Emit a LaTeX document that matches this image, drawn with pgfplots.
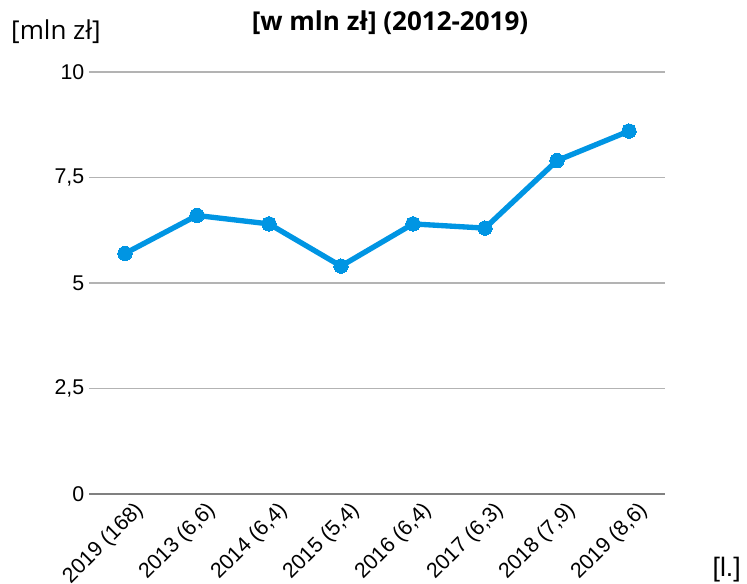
\documentclass[border=0pt]{standalone}
\usepackage{pgfplots}
\pgfplotsset{compat=1.18}
\usepackage{fontspec}
\setmainfont{Liberation Sans}
\newfontfamily\opensans{Open Sans}
\definecolor{lineblue}{HTML}{0095E3}
\definecolor{gridgray}{HTML}{B3B3B3}
\definecolor{axgray}{HTML}{808080}
\begin{document}
\begin{tikzpicture}
\begin{axis}[
  at={(66.75pt,67.5pt)}, anchor=south west,
  scale only axis, width=432pt, height=316.5pt,
  xmin=-0.5, xmax=7.5, ymin=0, ymax=10,
  enlarge y limits=false,
  axis x line*=bottom, axis y line*=left,
  y axis line style={draw=none},
  x axis line style={draw=axgray, line width=1.2pt},
  xtick={0,...,7},
  xticklabels={2019 (168),2013 (6{,}6),2014 (6{,}4),2015 (5{,}4),2016 (6{,}4),2017 (6{,}3),2018 (7{,}9),2019 (8{,}6)},
  xtick style={draw=none},
  x tick label style={rotate=45, anchor=north east, font=\fontsize{16}{18}\selectfont, xshift=4.5pt, yshift=-4pt},
  ytick={0,2.5,5,7.5,10},
  yticklabels={0,{2,5},5,{7,5},10},
  y tick label style={font=\fontsize{16}{18}\selectfont},
  ytick style={draw=none},
  major tick length=0pt,
  ymajorgrids, grid style={draw=gridgray, line width=0.8pt},
  clip=false,
]
\addplot[color=lineblue, line width=4pt, mark=*, mark size=5.4pt, mark options={fill=lineblue, draw=lineblue, line width=0pt}]
  coordinates {(0,5.7) (1,6.6) (2,6.4) (3,5.4) (4,6.4) (5,6.3) (6,7.9) (7,8.6)};
\end{axis}
\node[font=\opensans\bfseries\fontsize{19.5}{22}\selectfont] at (292.5pt,421pt) {[w mln zł] (2012-2019)};
\node[font=\opensans\fontsize{19.5}{22}\selectfont] at (42pt,414pt) {[mln zł]};
\node[font=\fontsize{20}{22}\selectfont] at (545pt,11pt) {[l.]};
\pgfresetboundingbox
\path (0,0) rectangle (560.25pt,438pt);
\end{tikzpicture}
\end{document}
